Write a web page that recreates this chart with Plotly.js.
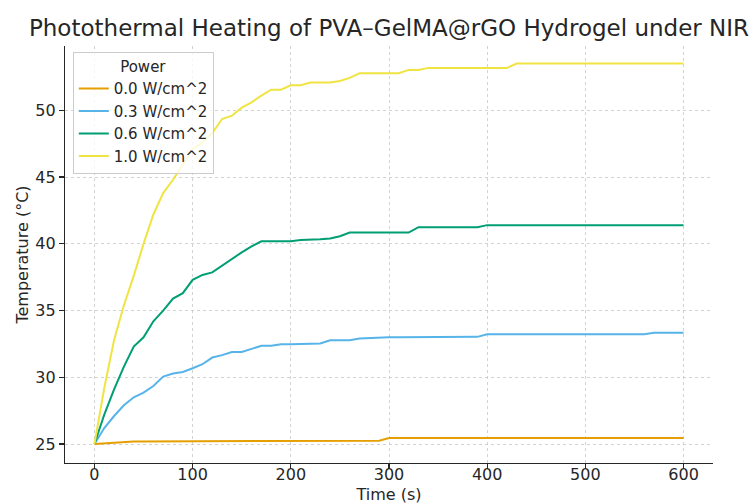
<!DOCTYPE html>
<html>
<head>
<meta charset="utf-8">
<script src="https://cdn.plot.ly/plotly-3.0.1.min.js"></script>
<style>html,body{margin:0;padding:0;background:#fff;}#chart{width:753px;height:504px;}</style>
</head>
<body>
<div id="chart"></div>
<script>
// Time axis (s)
const time = [0,10,20,30,40,50,60,70,80,90,100,110,120,130,140,150,160,170,180,190,200,
  210,220,230,240,250,260,270,280,290,300,310,320,330,340,350,360,370,380,390,400,
  410,420,430,440,450,460,470,480,490,500,510,520,530,540,550,560,570,580,590,600];

const seriesNames = ["0.0 W/cm^2","0.3 W/cm^2","0.6 W/cm^2","1.0 W/cm^2"];

const temp00 = [25.0,25.05,25.15,25.2,25.2,25.2,25.2,25.2,25.2,25.2,25.2,25.2,25.2,25.25,25.25,25.25,25.25,25.25,25.25,25.25,25.25,
  25.25,25.25,25.25,25.25,25.25,25.25,25.25,25.25,25.25,25.45,25.45,25.45,25.45,25.45,25.45,25.45,25.45,25.45,25.45,25.45,
  25.45,25.45,25.45,25.45,25.45,25.45,25.45,25.45,25.45,25.45,25.45,25.45,25.45,25.45,25.45,25.45,25.45,25.45,25.45,25.45];

const temp03 = [25.0,26.2,27.1,27.9,28.5,28.85,29.35,30.05,30.28,30.4,30.68,30.98,31.48,31.66,31.9,31.9,32.13,32.36,32.36,32.48,32.48,
  32.48,32.5,32.53,32.78,32.78,32.78,32.9,32.95,33.0,33.0,33.0,33.0,33.0,33.0,33.0,33.0,33.03,33.03,33.03,33.23,
  33.23,33.23,33.23,33.23,33.23,33.23,33.23,33.23,33.23,33.23,33.23,33.23,33.23,33.23,33.23,33.23,33.33,33.33,33.33,33.33];

const temp06 = [25.0,27.2,29.1,30.8,32.3,33.0,34.2,35.0,35.9,36.3,37.3,37.67,37.86,38.36,38.9,39.36,39.8,40.19,40.19,40.19,40.19,
  40.29,40.3,40.35,40.4,40.57,40.84,40.84,40.84,40.84,40.84,40.84,40.84,41.25,41.25,41.25,41.25,41.25,41.25,41.25,41.4,
  41.4,41.4,41.4,41.4,41.4,41.4,41.4,41.4,41.4,41.4,41.4,41.4,41.4,41.4,41.4,41.4,41.4,41.4,41.4,41.4];

const temp10 = [25.0,29.2,32.8,35.4,37.6,40.0,42.2,43.8,44.8,46.0,47.1,47.6,48.3,49.35,49.6,50.2,50.6,51.1,51.55,51.55,51.88,
  51.88,52.08,52.08,52.08,52.2,52.43,52.78,52.78,52.78,52.78,52.78,53.03,53.03,53.18,53.18,53.18,53.18,53.18,53.18,53.18,
  53.18,53.18,53.5,53.5,53.5,53.5,53.5,53.5,53.5,53.5,53.5,53.5,53.5,53.5,53.5,53.5,53.5,53.5,53.5,53.5];

const colors = ["#E69F00","#56B4E9","#009E73","#F0E442"];
const allTemps = [temp00, temp03, temp06, temp10];

const xTicks = [0,100,200,300,400,500,600];
const yTicks = [25,30,35,40,45,50];

const font = "DejaVu Sans, sans-serif";
const txt = "#262626";

const traces = allTemps.map((vals, i) => ({
  x: time, y: vals, type: "scatter", mode: "lines", name: seriesNames[i],
  line: {color: colors[i], width: 2}
}));

const layout = {
  width: 753, height: 504,
  margin: {l: 65, r: 40, t: 46, b: 41, pad: 0},
  paper_bgcolor: "#ffffff", plot_bgcolor: "#ffffff",
  font: {family: font, color: txt},
  title: {text: "Photothermal Heating of PVA–GelMA@rGO Hydrogel under NIR",
    font: {family: font, size: 23, color: txt}, x: 0.5, xref: "paper", xanchor: "center",
    y: 1 - 28/504, yref: "container", yanchor: "middle"},
  xaxis: {
    range: [-30, 630], tickvals: xTicks, ticktext: xTicks.map(String),
    showline: true, linecolor: "#262626", linewidth: 1.2, mirror: false,
    ticks: "outside", ticklen: 5, tickwidth: 1.2, tickcolor: "#262626",
    tickfont: {size: 16, color: txt}, ticklabelstandoff: -8,
    showgrid: true, gridcolor: "#c8c8c8", gridwidth: 0.8, griddash: "3px,3px",
    zeroline: false, automargin: false,
    title: {text: "Time (s)", font: {size: 16, color: txt}, standoff: 17}
  },
  yaxis: {
    range: [23.58, 54.82], tickvals: yTicks, ticktext: yTicks.map(String),
    showline: true, linecolor: "#262626", linewidth: 1.2, mirror: false,
    ticks: "outside", ticklen: 5, tickwidth: 1.2, tickcolor: "#262626",
    tickfont: {size: 16, color: txt},
    showgrid: true, gridcolor: "#c8c8c8", gridwidth: 0.8, griddash: "3px,3px",
    zeroline: false, automargin: false,
    title: {text: "Temperature (°C)", font: {size: 16, color: txt}, standoff: 2}
  },
  legend: {
    x: 0.012, y: 0.986, xanchor: "left", yanchor: "top",
    bgcolor: "rgba(255,255,255,0.8)", bordercolor: "#cccccc", borderwidth: 1,
    font: {family: font, size: 15, color: txt},
    title: {text: "Power", side: "top center", font: {family: font, size: 15, color: txt}},
    tracegroupgap: 0
  },
  showlegend: true
};

Plotly.newPlot("chart", traces, layout, {displayModeBar: false, staticPlot: true});
</script>
</body>
</html>
